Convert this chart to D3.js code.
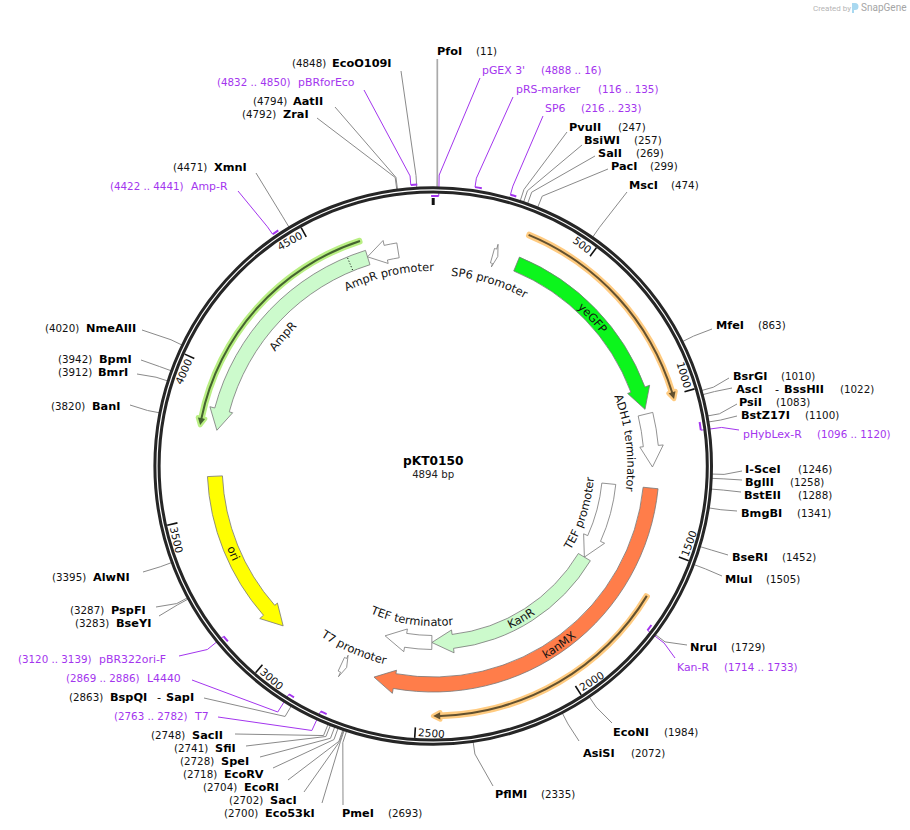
<!DOCTYPE html>
<html>
<head>
<meta charset="utf-8">
<title>pKT0150</title>
<script src="https://cdn.jsdelivr.net/npm/d3@7"></script>
<style>
body { margin: 0; background: #fff; }
text { font-family: "DejaVu Sans", Verdana, sans-serif; }
</style>
</head>
<body>
<div id="map"></div>
<script>
const plasmidName = "pKT0150";
const plasmidLength = 4894;
const rulerTicks = [500, 1000, 1500, 2000, 2500, 3000, 3500, 4000, 4500];

// restriction sites
const siteNames = ["PfoI", "PvuII", "BsiWI", "SalI", "PacI", "MscI", "MfeI", "BsrGI", "AscI", "PsiI", "BstZ17I",
    "I-SceI", "BglII", "BstEII", "BmgBI", "BseRI", "MluI", "NruI", "EcoNI", "AsiSI", "PflMI", "PmeI",
    "Eco53kI", "SacI", "EcoRI", "EcoRV", "SpeI", "SfiI", "SacII", "BspQI", "BseYI", "PspFI", "AlwNI",
    "BanI", "BmrI", "BpmI", "NmeAIII", "XmnI", "ZraI", "AatII", "EcoO109I"];
const siteBp = [11, 247, 257, 269, 299, 474, 863, 1010, 1022, 1083, 1100,
    1246, 1258, 1288, 1341, 1452, 1505, 1729, 1984, 2072, 2335, 2693,
    2700, 2702, 2704, 2718, 2728, 2741, 2748, 2863, 3283, 3287, 3395,
    3820, 3912, 3942, 4020, 4471, 4792, 4794, 4848];
const siteSecondNames = { AscI: "BssHII", BspQI: "SapI" };

// primers, strand 1 sits outside the ring, -1 inside
const primerNames = ["pGEX 3'", "pRS-marker", "SP6", "pHybLex-R", "Kan-R", "T7", "L4440", "pBR322ori-F", "Amp-R", "pBRforEco"];
const primerStarts = [4888, 116, 216, 1096, 1714, 2763, 2869, 3120, 4422, 4832];
const primerEnds = [16, 135, 233, 1120, 1733, 2782, 2886, 3139, 4441, 4850];
const primerStrands = [-1, 1, 1, -1, -1, -1, -1, -1, 1, 1];

// features, start runs to the arrow tip
const featureNames = ["yeGFP", "ADH1 terminator", "kanMX", "TEF promoter", "KanR", "TEF terminator",
    "ori", "AmpR", "AmpR promoter", "SP6 promoter", "T7 promoter"];
const featureStarts = [305, 1037, 1302, 1302, 1646, 2453, 3634, 4657, 4768, 214, 2785];
const featureEnds = [1020, 1227, 2660, 1646, 2453, 2662, 3034, 3798, 4657, 233, 2763];

// unlabelled thin features beside the big ones
const thinStarts = [305, 1649, 4649];
const thinEnds = [1012, 2447, 3806];

const ampSignalBp = 4590;
const originBp = 0;

// layout ---------------------------------------------------------------
const width = 910, height = 830;
const cx = 433.2, cy = 466;
const ringR = 276.2;

// [name x, position x, text centre y, leader x, leader y]
const siteLayout = {
    PfoI: [437, 476, 51, 437.3, 59], PvuII: [569, 618, 127, 567, 132], BsiWI: [584, 634, 140, 582, 145],
    SalI: [598, 636, 153, 595, 156], PacI: [611, 650, 166, 608, 169], MscI: [629, 671, 185, 627, 192],
    MfeI: [716, 758, 325, 712, 329], BsrGI: [733, 781, 376, 729, 378], AscI: [736, 840, 389, 732, 388],
    PsiI: [739, 776, 402, 737, 404], BstZ17I: [741, 805, 415, 737, 416], "I-SceI": [745, 798, 469, 742, 471],
    BglII: [745, 790, 482, 742, 480], BstEII: [744, 798, 495, 741, 492], BmgBI: [741, 797, 513, 737, 511],
    BseRI: [732, 782, 557, 728, 555], MluI: [725, 766, 579, 722, 576], NruI: [690, 731, 647, 687, 645],
    EcoNI: [613, 664, 732, 612, 723], AsiSI: [583, 631, 753, 579, 741], PflMI: [495, 541, 794, 493, 786],
    PmeI: [342, 388, 813, 343, 805], Eco53kI: [265, 224, 813, 322, 803], SacI: [270, 229, 800, 304, 792],
    EcoRI: [244, 203, 787, 288, 780], EcoRV: [224, 183, 774, 273, 768], SpeI: [221, 180, 761, 260, 757],
    SfiI: [215, 174, 748, 246, 746], SacII: [192, 151, 735, 235, 734], BspQI: [110, 69, 697, 204, 698],
    BseYI: [116, 75, 623, 159, 616], PspFI: [111, 70, 610, 156, 607], AlwNI: [93, 52, 577, 143, 572],
    BanI: [92, 51, 406, 130, 405], BmrI: [98, 58, 372, 137, 374], BpmI: [99, 58, 359, 141, 360],
    NmeAIII: [86, 45, 328, 142, 330], XmnI: [214, 173, 167, 256, 173], ZraI: [283, 242, 114, 317, 118],
    AatII: [293, 253, 101, 335, 107], EcoO109I: [332, 292, 63, 401, 71]
};
const secondNameX = { AscI: 775, BspQI: 157 };

// [name x, range x, text centre y, leader x, leader y]
const primerLayout = {
    "pGEX 3'": [482, 541, 70, 480, 78], "pRS-marker": [516, 598, 89, 513, 97], SP6: [545, 581, 108, 543, 116],
    "pHybLex-R": [743, 817, 434, 739, 430], "Kan-R": [677, 724, 667, 675, 658], T7: [195, 114, 716, 218, 717],
    L4440: [147, 66, 678, 192, 680], "pBR322ori-F": [99, 18, 659, 179, 656], "Amp-R": [191, 110, 186, 238, 191],
    pBRforEco: [298, 217, 82, 364, 90]
};

// label centre as [bp, baseline radius]
const featureLabelAt = {
    yeGFP: [640, 214], "ADH1 terminator": [1130, 194], kanMX: [1970, 223], "TEF promoter": [1465, 161],
    KanR: [2040, 180], "TEF terminator": [2555, 160], ori: [3350, 222], AmpR: [4225, 195],
    "AmpR promoter": [4716, 195], "SP6 promoter": [231, 191], "T7 promoter": [2767, 204]
};
const featureFills = {
    yeGFP: "#0cf51c", "ADH1 terminator": "#fff", kanMX: "#ff7d4a", "TEF promoter": "#fff", KanR: "#ccfacc",
    "TEF terminator": "#fff", ori: "#ffff00", AmpR: "#ccfacc", "AmpR promoter": "#fff", "SP6 promoter": "#fff",
    "T7 promoter": "#fff"
};
const innerTrack = ["TEF promoter", "KanR", "TEF terminator"];
const thinRadii = [250, 250, 236.6];
const thinHalos = ["#ffcb80", "#ffcb80", "#b9ef83"];
const thinCores = ["#63512f", "#63512f", "#456330"];

const PURPLE = "#a335ee";
const GREY = "#8a8a8a";
const nameSize = "11.3px";
const numSize = "10.3px";

const angle = d3.scaleLinear().domain([0, plasmidLength]).range([0, 2 * Math.PI]);

let polar = (a, r) => [r * Math.sin(a), -r * Math.cos(a)];

/*
 * Arc band ending in an arrow head. Works in both directions,
 * start to end is the way the arrow points.
 */
function arrowPath(start, end, rIn, rOut, headIn, headOut, headPx) {
    let a0 = angle(start), a1 = angle(end);
    let dir = a1 > a0 ? 1 : -1;
    let rTip = (headIn + headOut) / 2;
    let span = Math.min(headPx / rTip, Math.abs(a1 - a0) * 0.6);
    let ah = a1 - dir * span;
    let p = d3.path();
    p.arc(0, 0, rOut, a0 - Math.PI / 2, ah - Math.PI / 2, dir < 0);
    p.lineTo(...polar(ah, headOut));
    p.lineTo(...polar(a1, rTip));
    p.lineTo(...polar(ah, headIn));
    p.lineTo(...polar(ah, rIn));
    p.arc(0, 0, rIn, ah - Math.PI / 2, a0 - Math.PI / 2, dir > 0);
    p.closePath();
    return p.toString();
}

let svg = d3.select("#map").append("svg")
    .attr("width", width)
    .attr("height", height)
    .style("display", "block");
let g = svg.append("g").attr("transform", `translate(${cx}, ${cy})`);
let defs = svg.append("defs");

let lineGen = d3.line();
let leaders = g.append("g").attr("fill", "none");

// site leaders and labels
siteNames.forEach((name, i) => {
    let a = angle(siteBp[i]);
    let [nx, px, y, tx, ty] = siteLayout[name];
    leaders.append("path")
        .attr("d", lineGen([polar(a, ringR), polar(a, 291), [tx - cx, ty - cy]]))
        .attr("stroke", name == "PfoI" ? "#aaa" : GREY)
        .attr("stroke-width", name == "PfoI" ? 1.7 : 1);
    svg.append("text")
        .attr("x", nx)
        .attr("y", y + 4)
        .style("font-size", nameSize)
        .style("font-weight", "bold")
        .attr("fill", "#000")
        .text(name);
    if (siteSecondNames[name]) {
        let second = svg.append("text")
            .attr("x", secondNameX[name])
            .attr("y", y + 4)
            .style("font-size", nameSize)
            .attr("fill", "#000");
        second.append("tspan").text("-");
        second.append("tspan").attr("dx", 5).style("font-weight", "bold").text(siteSecondNames[name]);
    }
    svg.append("text")
        .attr("x", px)
        .attr("y", y + 4)
        .style("font-size", numSize)
        .attr("fill", "#111")
        .text(`(${siteBp[i]})`);
});

// primers
primerNames.forEach((name, i) => {
    let start = primerStarts[i];
    let end = primerEnds[i] < start ? primerEnds[i] + plasmidLength : primerEnds[i];
    let inside = primerStrands[i] < 0;
    let r = inside ? 270 : 282;
    let stemA = angle(inside ? end : start);
    let [nx, px, y, tx, ty] = primerLayout[name];
    let p = d3.path();
    p.arc(0, 0, r, angle(start) - Math.PI / 2, angle(end) - Math.PI / 2);
    g.append("path")
        .attr("d", p.toString())
        .attr("fill", "none")
        .attr("stroke", PURPLE)
        .attr("stroke-width", 2);
    leaders.append("path")
        .attr("d", lineGen([polar(stemA, r), polar(stemA, 291), [tx - cx, ty - cy]]))
        .attr("stroke", PURPLE)
        .attr("stroke-width", 1);
    svg.append("text")
        .attr("x", nx)
        .attr("y", y + 4)
        .style("font-size", "10.9px")
        .attr("fill", PURPLE)
        .text(name);
    svg.append("text")
        .attr("x", px)
        .attr("y", y + 4)
        .style("font-size", numSize)
        .attr("fill", PURPLE)
        .text(`(${primerStarts[i]} .. ${primerEnds[i]})`);
});

// ring
g.append("circle").attr("r", ringR).attr("fill", "none").attr("stroke", "#262626").attr("stroke-width", 7.2);
g.append("circle").attr("r", ringR).attr("fill", "none").attr("stroke", "#fff").attr("stroke-width", 1.2);

// ruler
rulerTicks.forEach(bp => {
    let a = angle(bp);
    g.append("line")
        .attr("x1", polar(a, 272.5)[0])
        .attr("y1", polar(a, 272.5)[1])
        .attr("x2", polar(a, 262)[0])
        .attr("y2", polar(a, 262)[1])
        .attr("stroke", "#111")
        .attr("stroke-width", 1.6);
    let deg = a * 180 / Math.PI;
    let flip = deg > 90 && deg < 270;
    g.append("text")
        .attr("transform", `rotate(${flip ? deg - 180 : deg})`)
        .attr("x", flip ? 3 : -3)
        .attr("y", flip ? 270.5 : -262.5)
        .attr("text-anchor", flip ? "start" : "end")
        .style("font-size", "10.5px")
        .attr("fill", "#111")
        .text(bp);
});
g.append("line")
    .attr("x1", polar(angle(originBp), 261)[0])
    .attr("y1", polar(angle(originBp), 261)[1])
    .attr("x2", polar(angle(originBp), 268)[0])
    .attr("y2", polar(angle(originBp), 268)[1])
    .attr("stroke", "#111")
    .attr("stroke-width", 3);

// thin features, halo first then the dark core
thinStarts.forEach((start, i) => {
    let r = thinRadii[i];
    let d = arrowPath(start, thinEnds[i], r - 1, r + 1, r - 3.6, r + 3.6, 7);
    g.append("path").attr("d", d).attr("fill", thinHalos[i]).attr("stroke", thinHalos[i]).attr("stroke-width", 4.6).attr("stroke-linejoin", "round");
    g.append("path").attr("d", d).attr("fill", thinCores[i]);
});

// feature arrows
featureNames.forEach((name, i) => {
    let inner = innerTrack.includes(name);
    let d = inner
        ? arrowPath(featureStarts[i], featureEnds[i], 169.5, 183.5, 165, 188, 21)
        : arrowPath(featureStarts[i], featureEnds[i], 211, 226, 207.5, 231, 21);
    g.append("path")
        .attr("d", d)
        .attr("fill", featureFills[name])
        .attr("stroke", "#777")
        .attr("stroke-width", 0.8);
});

g.append("line")
    .attr("x1", polar(angle(ampSignalBp), 212)[0])
    .attr("y1", polar(angle(ampSignalBp), 212)[1])
    .attr("x2", polar(angle(ampSignalBp), 225)[0])
    .attr("y2", polar(angle(ampSignalBp), 225)[1])
    .attr("stroke", "#000")
    .attr("stroke-dasharray", "1,2");

// curved feature labels
featureNames.forEach((name, i) => {
    let [bp, r] = featureLabelAt[name];
    let a = angle(bp);
    let deg = a * 180 / Math.PI;
    let flip = deg > 90 && deg < 270;
    let half = 1.2;
    let p = d3.path();
    let a0 = flip ? a + half : a - half;
    let a1 = flip ? a - half : a + half;
    p.moveTo(...polar(a0, r));
    p.arc(0, 0, r, a0 - Math.PI / 2, a1 - Math.PI / 2, flip);
    let id = "label" + i;
    defs.append("path").attr("id", id).attr("d", p.toString());
    g.append("text")
        .attr("text-anchor", "middle")
        .style("font-size", "11.4px")
        .attr("fill", "#111")
        .append("textPath")
        .attr("href", "#" + id)
        .attr("startOffset", "50%")
        .text(name);
});

// centre
svg.append("text")
    .attr("x", cx)
    .attr("y", 465)
    .attr("text-anchor", "middle")
    .style("font-size", "12.2px")
    .style("font-weight", "bold")
    .text(plasmidName);
svg.append("text")
    .attr("x", cx)
    .attr("y", 478)
    .attr("text-anchor", "middle")
    .style("font-size", "10.2px")
    .attr("fill", "#222")
    .text(plasmidLength + " bp");

// watermark
svg.append("text")
    .attr("x", 813)
    .attr("y", 11)
    .style("font-family", "Roboto")
    .style("font-size", "8px")
    .attr("fill", "#b5b5b5")
    .text("Created by");
svg.append("path")
    .attr("d", "M852,3 h3 a3.5,3.5 0 0 1 0,7 h-1 v3 h-2 z")
    .attr("fill", "#a8d8f0");
svg.append("text")
    .attr("x", 861)
    .attr("y", 11)
    .style("font-family", "Roboto")
    .style("font-size", "10px")
    .attr("fill", "#a5a5a5")
    .text("SnapGene");
</script>
</body>
</html>
